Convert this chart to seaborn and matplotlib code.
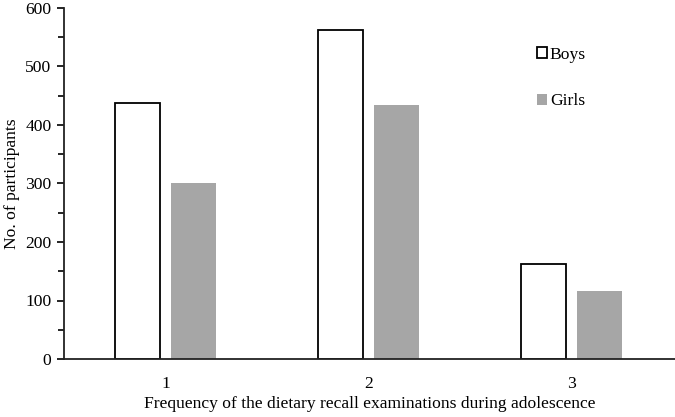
import pandas as pd
import numpy as np
import matplotlib
matplotlib.use('Agg')
import matplotlib.pyplot as plt
import seaborn as sns
from matplotlib.ticker import MultipleLocator

# Values
frequency = ['1', '2', '3']
boys = [438, 563, 163]
girls = [301, 434, 117]

data = pd.DataFrame({
    'Frequency': frequency * 2,
    'Count': boys + girls,
    'Sex': ['Boys'] * 3 + ['Girls'] * 3,
})

sns.set_style('white')
plt.rcParams['font.family'] = ['Liberation Serif', 'DejaVu Serif']
plt.rcParams['font.size'] = 12.6
plt.rcParams['text.color'] = 'black'
plt.rcParams['axes.labelcolor'] = 'black'
plt.rcParams['xtick.color'] = 'black'
plt.rcParams['ytick.color'] = 'black'

fig = plt.figure(figsize=(6.75, 4.17), dpi=100)
ax = fig.add_axes([64 / 675, 1 - 359 / 417, 611 / 675, 351 / 417])

palette = {'Boys': 'white', 'Girls': '#a6a6a6'}
sns.barplot(data=data, x='Frequency', y='Count', hue='Sex', palette=palette,
            width=0.56, gap=0.21, ax=ax, saturation=1, linewidth=0)

# outline only the boys' bars
for bar in ax.containers[0]:
    bar.set_edgecolor('black')
    bar.set_linewidth(1.3)

ax.set_xlim(-0.5, 2.51)
ax.set_ylim(0, 600)
ax.yaxis.set_major_locator(MultipleLocator(100))
ax.yaxis.set_minor_locator(MultipleLocator(50))
ax.tick_params(axis='y', which='major', direction='out', length=5, width=1.2, left=True, labelsize=12.6, pad=4)
ax.tick_params(axis='y', which='minor', direction='out', length=4, width=1.2, left=True)
ax.tick_params(axis='x', length=0, labelsize=12.6, pad=12)

for side in ['top', 'right']:
    ax.spines[side].set_visible(False)
for side in ['left', 'bottom']:
    ax.spines[side].set_color('#222222')
    ax.spines[side].set_linewidth(1.3)

ax.set_xlabel('Frequency of the dietary recall examinations during adolescence', fontsize=12.6, labelpad=3)
ax.set_ylabel('No. of participants', fontsize=12.6, labelpad=4)

handles, labels = ax.get_legend_handles_labels()
for h in handles:
    h.set_edgecolor('black' if h.get_label() == 'Boys' else 'none')
    h.set_linewidth(1.3)
ax.legend(handles, labels, frameon=False, loc='upper left',
          bbox_to_anchor=(521 / 675, 1 - 31 / 417), bbox_transform=fig.transFigure,
          handlelength=0.6, handleheight=0.6, handletextpad=0.15,
          labelspacing=1.75, fontsize=12.6)

fig.savefig('out.png', dpi=100)
